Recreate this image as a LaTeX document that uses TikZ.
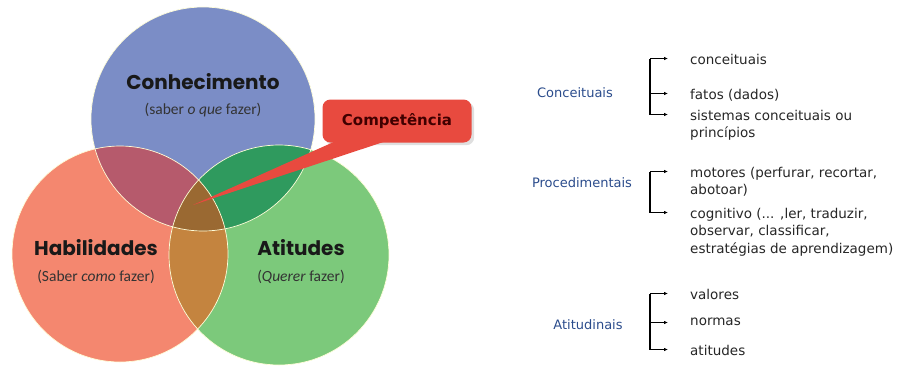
\documentclass[tikz,border=0pt]{standalone}
\usepackage{fontspec}
\usetikzlibrary{calc,shadows,arrows.meta}
\setmainfont{DejaVu Sans}
\newfontfamily\geofont{Poppins}
\newfontfamily\calfont{Carlito}

\definecolor{azul}{HTML}{7B8DC6}
\definecolor{salmao}{HTML}{F4876F}
\definecolor{verde}{HTML}{7CC97B}
\definecolor{azulsalmao}{HTML}{B65A6C}
\definecolor{azulverde}{HTML}{2F9A5E}
\definecolor{salmaoverde}{HTML}{C4843F}
\definecolor{centro}{HTML}{9A6932}
\definecolor{balao}{HTML}{E84A3F}
\definecolor{grupotxt}{HTML}{2B4C8C}

\begin{document}
\begin{tikzpicture}[x=1pt,y=-1pt,
  titulo/.style={font=\geofont\bfseries\fontsize{20}{24}\selectfont, text=black!90},
  sub/.style={font=\calfont\fontsize{15.5}{18}\selectfont, text=black!80},
  grupo/.style={font=\fontsize{13}{15}\selectfont, text=grupotxt},
  item/.style={font=\fontsize{13.5}{17.5}\selectfont, anchor=north west, inner sep=0pt, align=left, text=black!85},
  seta/.style={-{Latex[length=4pt,width=3.5pt]}, line width=1.1pt},
  chave/.style={line width=1.1pt},
  borda/.style={draw=white!85!yellow, line width=0.7pt}]

  \useasboundingbox (0,0) rectangle (905,365);

  % Venn
  \coordinate (cb) at (203,119);
  \coordinate (cr) at (120,254);
  \coordinate (cg) at (279,255);

  \fill[azul] (cb) circle (112);
  \fill[salmao] (cr) circle (108);
  \fill[verde] (cg) circle (110);
  \begin{scope}
    \clip (cb) circle (112);
    \fill[azulsalmao] (cr) circle (108);
    \fill[azulverde] (cg) circle (110);
  \end{scope}
  \begin{scope}
    \clip (cr) circle (108);
    \fill[salmaoverde] (cg) circle (110);
    \clip (cb) circle (112);
    \fill[centro] (cg) circle (110);
  \end{scope}
  \draw[borda] (cb) circle (112);
  \draw[borda] (cr) circle (108);
  \draw[borda] (cg) circle (110);

  \node[titulo] (conh) at (203,82) {Conhecimento};
  \node[sub] (conhsub) at (203,110) {(saber \textit{o que} fazer)};
  \node[titulo] (hab) at (96,248) {Habilidades};
  \node[sub] (habsub) at (96,277) {(Saber \textit{como} fazer)};
  \node[titulo] (atit) at (301,248) {Atitudes};
  \node[sub] (atitsub) at (301,277) {(\textit{Querer} fazer)};

  % balao
  \node[fill=balao, rounded corners=8pt, minimum width=149pt, minimum height=43pt,
        drop shadow={opacity=0.25}, font=\bfseries\fontsize{15}{18}\selectfont,
        text=black!75!red] (comp) at (397,121) {Competência};
  \coordinate (ponta) at (193,205);
  \fill[balao] (ponta) -- ($(comp.south west)+(12,-1)$) -- ($(comp.south west)+(62,-1)$) -- cycle;

  % Conceituais
  \node[grupo] (conc) at (575,93) {Conceituais};
  \node[item] (c1) at (690,54) {conceituais};
  \node[item] (c2) at (690,89) {fatos (dados)};
  \node[item] (c3) at (690,110) {sistemas conceituais ou\\princípios};
  \foreach \n in {c1,c2,c3}
    \draw[seta] ($(\n.north west)+(-40,4.5)$) -- ($(\n.north west)+(-22,4.5)$);
  \draw[chave] ($(c1.north west)+(-40,4.5)$) -- ($(c3.north west)+(-40,4.5)$);

  % Procedimentais
  \node[grupo] (proc) at (582,183) {Procedimentais};
  \node[item] (p1) at (690,167) {motores (perfurar, recortar,\\abotoar)};
  \node[item] (p2) at (690,208) {cognitivo (... ,ler, traduzir,\\observar, classificar,\\estratégias de aprendizagem)};
  \foreach \n in {p1,p2}
    \draw[seta] ($(\n.north west)+(-40,4.5)$) -- ($(\n.north west)+(-22,4.5)$);
  \draw[chave] ($(p1.north west)+(-40,4.5)$) -- ($(p2.north west)+(-40,4.5)$);

  % Atitudinais
  \node[grupo] (atd) at (588,325) {Atitudinais};
  \node[item] (a1) at (690,289) {valores};
  \node[item] (a2) at (690,318) {normas};
  \node[item] (a3) at (690,345) {atitudes};
  \foreach \n in {a1,a2,a3}
    \draw[seta] ($(\n.north west)+(-40,4.5)$) -- ($(\n.north west)+(-22,4.5)$);
  \draw[chave] ($(a1.north west)+(-40,4.5)$) -- ($(a3.north west)+(-40,4.5)$);

\end{tikzpicture}
\end{document}
